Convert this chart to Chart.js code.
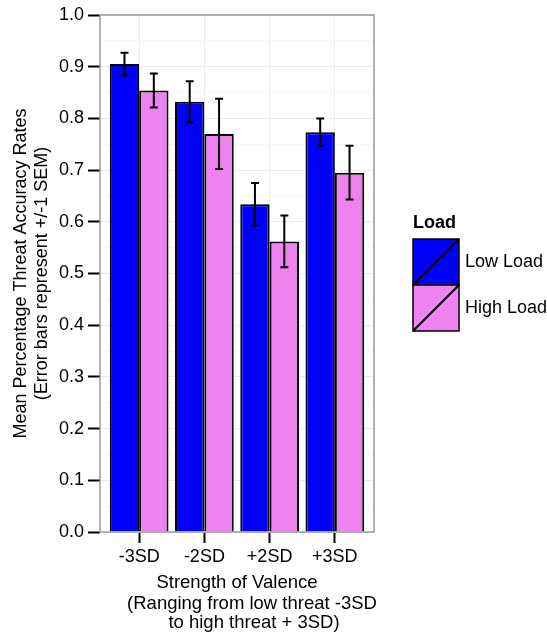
<!DOCTYPE html>
<html>
<head>
<meta charset="utf-8">
<script src="https://cdn.jsdelivr.net/npm/chart.js@4"></script>
<style>
  body { margin: 0; background: #fff; }
  #wrap { width: 547px; height: 635px; }
</style>
</head>
<body>
<div id="wrap"><canvas id="chart"></canvas></div>
<script>
const categories = ["-3SD", "-2SD", "+2SD", "+3SD"];
const lowLoad = [0.905, 0.832, 0.634, 0.773];
const highLoad = [0.854, 0.770, 0.562, 0.695];
const lowSem = [0.022, 0.040, 0.041, 0.027];
const highSem = [0.033, 0.068, 0.050, 0.052];
const yTicks = [0, 0.1, 0.2, 0.3, 0.4, 0.5, 0.6, 0.7, 0.8, 0.9, 1.0];
const seriesNames = ["Low Load", "High Load"];
const seriesColors = ["#0000ff", "#ee82ee"];
const FONT = "'Liberation Sans', Arial, sans-serif";

// y grid: major every 0.1, minor halfway between
let yGrid = [];
yTicks.forEach((t, i) => {
    yGrid.push({ value: t, major: true });
    if (i < yTicks.length - 1) yGrid.push({ value: (t + yTicks[i + 1]) / 2, major: false });
});

function toPoints(vals) {
    return vals.map((v, i) => ({ x: i + 1, y: v }));
}

const errorBars = {
    id: "errorBars",
    afterDatasetsDraw(chart) {
        const ctx = chart.ctx;
        const y = chart.scales.y;
        const sems = [lowSem, highSem];
        ctx.save();
        ctx.strokeStyle = "#000";
        ctx.lineWidth = 2;
        chart.data.datasets.forEach((ds, di) => {
            chart.getDatasetMeta(di).data.forEach((bar, i) => {
                let v = ds.data[i].y;
                let top = y.getPixelForValue(v + sems[di][i]);
                let bot = y.getPixelForValue(v - sems[di][i]);
                let cx = bar.x;
                ctx.beginPath();
                ctx.moveTo(cx, top); ctx.lineTo(cx, bot);
                ctx.moveTo(cx - 4, top); ctx.lineTo(cx + 4, top);
                ctx.moveTo(cx - 4, bot); ctx.lineTo(cx + 4, bot);
                ctx.stroke();
            });
        });
        ctx.restore();
    }
};

const panelBorder = {
    id: "panelBorder",
    afterDatasetsDraw(chart) {
        const a = chart.chartArea;
        const ctx = chart.ctx;
        ctx.save();
        ctx.strokeStyle = "#999999";
        ctx.lineWidth = 1.5;
        ctx.strokeRect(a.left, a.top, a.right - a.left, a.bottom - a.top);
        ctx.restore();
    }
};

const xTitle = {
    id: "xTitle",
    afterDraw(chart) {
        const a = chart.chartArea;
        const ctx = chart.ctx;
        const mid = (a.left + a.right) / 2;
        const lines = [
            ["Strength of Valence", 0, 583],
            ["(Ranging from low threat -3SD", 15, 604],
            ["to high threat + 3SD)", 17, 623]
        ];
        ctx.save();
        ctx.fillStyle = "#000";
        ctx.font = "18.5px " + FONT;
        ctx.textAlign = "center";
        ctx.textBaseline = "middle";
        lines.forEach(l => ctx.fillText(l[0], mid + l[1], l[2]));
        ctx.restore();
    }
};

const keyLegend = {
    id: "keyLegend",
    afterDraw(chart) {
        const ctx = chart.ctx;
        const x0 = 413, y0 = 239, size = 46;
        ctx.save();
        ctx.fillStyle = "#000";
        ctx.font = "bold 18px " + FONT;
        ctx.textBaseline = "alphabetic";
        ctx.fillText("Load", 413, 228);
        seriesNames.forEach((name, i) => {
            let ky = y0 + i * size;
            ctx.fillStyle = seriesColors[i];
            ctx.fillRect(x0, ky, size, size);
            ctx.strokeStyle = "#000";
            ctx.lineWidth = 1.5;
            ctx.strokeRect(x0, ky, size, size);
            ctx.lineWidth = 2;
            ctx.beginPath();
            ctx.moveTo(x0, ky + size);
            ctx.lineTo(x0 + size, ky);
            ctx.stroke();
            ctx.fillStyle = "#000";
            ctx.font = "18px " + FONT;
            ctx.textBaseline = "middle";
            ctx.fillText(name, 465, ky + size / 2);
        });
        ctx.restore();
    }
};

new Chart(document.getElementById("chart"), {
    type: "bar",
    data: {
        datasets: [
            {
                label: seriesNames[0],
                data: toPoints(lowLoad),
                backgroundColor: seriesColors[0],
                borderColor: "#000",
                borderWidth: 2,
                categoryPercentage: 0.9,
                barPercentage: 1.0
            },
            {
                label: seriesNames[1],
                data: toPoints(highLoad),
                backgroundColor: seriesColors[1],
                borderColor: "#000",
                borderWidth: 2,
                categoryPercentage: 0.9,
                barPercentage: 1.0
            }
        ]
    },
    options: {
        responsive: true,
        maintainAspectRatio: false,
        animation: false,
        layout: { padding: { left: 0, right: 173, top: 15, bottom: 0 } },
        plugins: {
            legend: { display: false },
            tooltip: { enabled: false }
        },
        scales: {
            x: {
                type: "linear",
                min: 0.4,
                max: 4.6,
                offset: false,
                afterBuildTicks(scale) {
                    scale.ticks = categories.map((c, i) => ({ value: i + 1 }));
                },
                afterFit(scale) { scale.height = 103; },
                ticks: {
                    autoSkip: false,
                    maxRotation: 0,
                    padding: 3,
                    color: "#000",
                    font: { family: FONT, size: 18 },
                    callback: v => categories[Math.round(v) - 1]
                },
                grid: {
                    offset: false,
                    color: "#ebebeb",
                    lineWidth: 1,
                    tickColor: "#000",
                    tickWidth: 2,
                    tickLength: 11
                },
                border: { display: false }
            },
            y: {
                min: 0,
                max: 1,
                afterBuildTicks(scale) {
                    scale.ticks = yGrid.map(g => ({ value: g.value, major: g.major }));
                },
                afterFit(scale) { scale.width = 100; },
                ticks: {
                    autoSkip: false,
                    padding: 4,
                    color: "#000",
                    font: { family: FONT, size: 18 },
                    callback: (v, i) => yGrid[i].major ? v.toFixed(1) : ""
                },
                grid: {
                    color: c => (c.tick && c.tick.major === false) ? "#f7f7f7" : "#ebebeb",
                    lineWidth: 1,
                    tickColor: c => (c.tick && c.tick.major === false) ? "rgba(0,0,0,0)" : "#000",
                    tickWidth: 2,
                    tickLength: 12
                },
                border: { display: false },
                title: {
                    display: true,
                    text: ["Mean Percentage Threat Accuracy Rates", "(Error bars represent +/-1 SEM)"],
                    color: "#000",
                    font: { family: FONT, size: 18, lineHeight: 1.15 },
                    padding: { top: 11, bottom: 0 }
                }
            }
        }
    },
    plugins: [errorBars, panelBorder, xTitle, keyLegend]
});
</script>
</body>
</html>
